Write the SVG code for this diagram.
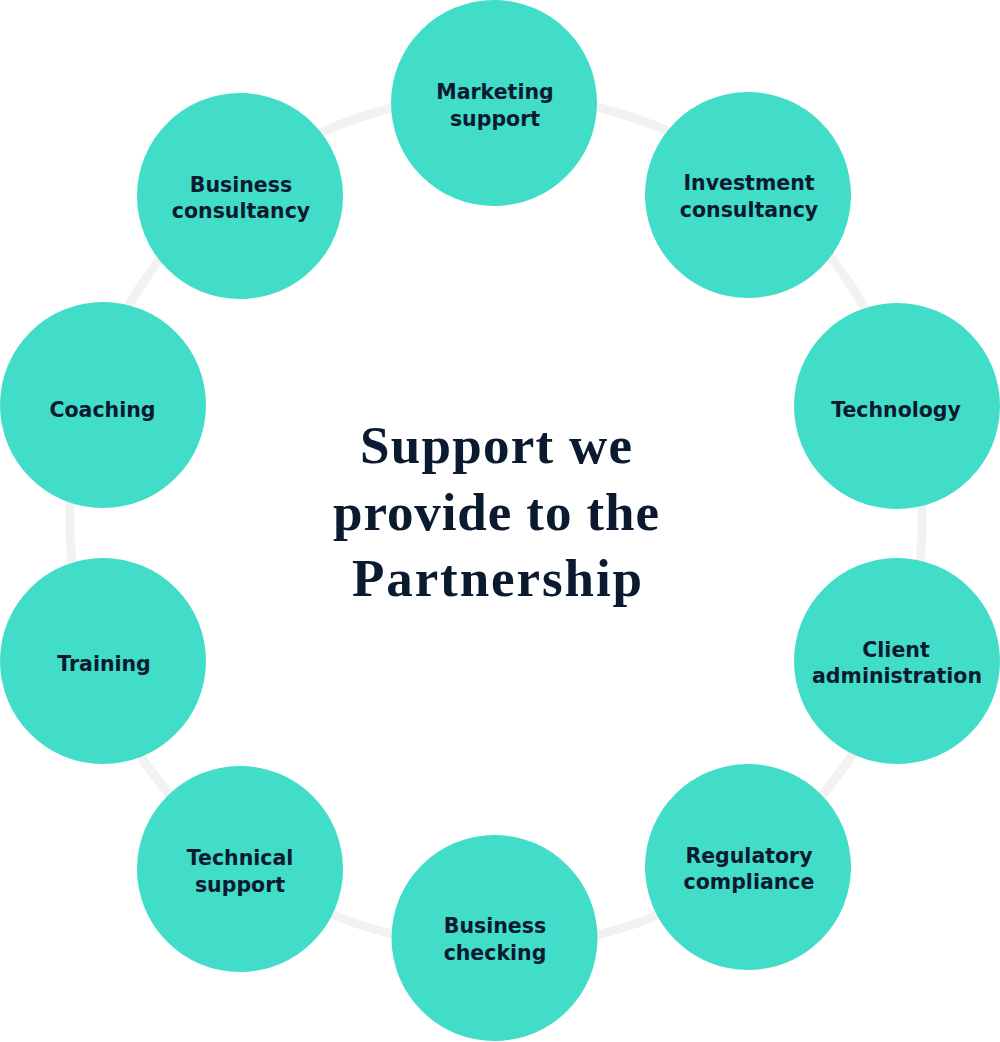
<svg xmlns="http://www.w3.org/2000/svg" width="1000" height="1042" viewBox="0 0 1000 1042">
  <style>
    .node { fill: #41DDC9; }
    .lbl { font-family: "DejaVu Sans", "Noto Sans", sans-serif; font-weight: bold; font-size: 20.5px; fill: #0B1A2F; text-anchor: middle; }
    .title { font-family: "Liberation Serif", "DejaVu Serif", serif; font-weight: bold; font-size: 53px; fill: #0B1A2F; text-anchor: middle; }
    .ring { fill: none; stroke: #F2F2F2; stroke-width: 9; }
  </style>
  <rect width="1000" height="1042" fill="#FFFFFF"/>
  <g id="connectors">
    <circle class="ring" cx="496" cy="521" r="426"/>
  </g>
  <g id="title">
    <text class="title" x="496" y="463" textLength="272" lengthAdjust="spacing">Support we</text>
    <text class="title" x="496" y="530" textLength="326" lengthAdjust="spacing">provide to the</text>
    <text class="title" x="497" y="596" textLength="290" lengthAdjust="spacing">Partnership</text>
  </g>
  <g id="marketing-support">
    <circle class="node" cx="494" cy="103" r="103"/>
    <text class="lbl" x="495" y="99">Marketing</text>
    <text class="lbl" x="495" y="126">support</text>
  </g>
  <g id="investment-consultancy">
    <circle class="node" cx="748" cy="195" r="103"/>
    <text class="lbl" x="749" y="190">Investment</text>
    <text class="lbl" x="749" y="217">consultancy</text>
  </g>
  <g id="technology">
    <circle class="node" cx="897" cy="406" r="103"/>
    <text class="lbl" x="896" y="417">Technology</text>
  </g>
  <g id="client-administration">
    <circle class="node" cx="897" cy="661" r="103"/>
    <text class="lbl" x="896" y="657">Client</text>
    <text class="lbl" x="897" y="683">administration</text>
  </g>
  <g id="regulatory-compliance">
    <circle class="node" cx="748" cy="867" r="103"/>
    <text class="lbl" x="749" y="863">Regulatory</text>
    <text class="lbl" x="749" y="889">compliance</text>
  </g>
  <g id="business-checking">
    <circle class="node" cx="494.5" cy="938" r="103"/>
    <text class="lbl" x="495" y="933">Business</text>
    <text class="lbl" x="495" y="960">checking</text>
  </g>
  <g id="technical-support">
    <circle class="node" cx="240" cy="869" r="103"/>
    <text class="lbl" x="240" y="865">Technical</text>
    <text class="lbl" x="240" y="892">support</text>
  </g>
  <g id="training">
    <circle class="node" cx="103" cy="661" r="103"/>
    <text class="lbl" x="104" y="671">Training</text>
  </g>
  <g id="coaching">
    <circle class="node" cx="103" cy="405" r="103"/>
    <text class="lbl" x="102.5" y="417">Coaching</text>
  </g>
  <g id="business-consultancy">
    <circle class="node" cx="240" cy="196" r="103"/>
    <text class="lbl" x="241" y="192">Business</text>
    <text class="lbl" x="241" y="218">consultancy</text>
  </g>
</svg>
